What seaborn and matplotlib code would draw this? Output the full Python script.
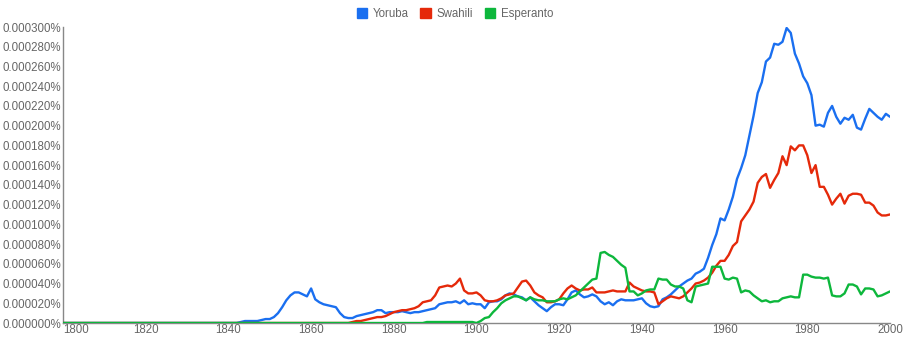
import numpy as np
import pandas as pd
import seaborn as sns
import matplotlib
matplotlib.use("Agg")
import matplotlib.pyplot as plt
from matplotlib.patches import Patch
from matplotlib.ticker import MultipleLocator, FuncFormatter

# values in millionths of a percent (300 -> 0.000300%)
years = list(range(1800, 2001))
x_ticks = [1800, 1820, 1840, 1860, 1880, 1900, 1920, 1940, 1960, 1980, 2000]

yoruba = [
    0, 0, 0, 0, 0, 0, 0, 0, 0, 0,  # 1800-1809
    0, 0, 0, 0, 0, 0, 0, 0, 0, 0,  # 1810-1819
    0, 0, 0, 0, 0, 0, 0, 0, 0, 0,  # 1820-1829
    0, 0, 0, 0, 0, 0, 0, 0, 0, 0,  # 1830-1839
    0, 0, 0, 1, 2, 2, 2, 2, 3, 4,  # 1840-1849
    4, 6, 10, 16, 23, 28, 31, 31, 29, 27,  # 1850-1859
    35, 24, 21, 19, 18, 17, 16, 10, 6, 5,  # 1860-1869
    5, 7, 8, 9, 10, 11, 13, 13, 10, 11,  # 1870-1879
    11, 11, 12, 11, 10, 11, 11, 12, 13, 14,  # 1880-1889
    15, 19, 20, 21, 21, 22, 20, 23, 19, 20,  # 1890-1899
    19, 19, 15, 21, 22, 22, 24, 28, 30, 29,  # 1900-1909
    27, 26, 23, 26, 22, 18, 15, 12, 16, 19,  # 1910-1919
    19, 18, 24, 31, 33, 29, 26, 27, 29, 27,  # 1920-1929
    22, 19, 21, 18, 22, 24, 23, 23, 23, 24,  # 1930-1939
    25, 20, 17, 16, 17, 24, 26, 29, 33, 37,  # 1940-1949
    40, 43, 45, 50, 52, 55, 66, 79, 90, 106,  # 1950-1959
    104, 115, 128, 146, 157, 170, 190, 210, 233, 244,  # 1960-1969
    265, 269, 283, 282, 285, 299, 294, 273, 263, 250,  # 1970-1979
    243, 231, 200, 201, 199, 213, 220, 209, 202, 208,  # 1980-1989
    206, 211, 198, 196, 207, 217, 213, 209, 206, 212,  # 1990-1999
    209,  # 2000
]

swahili = [
    0, 0, 0, 0, 0, 0, 0, 0, 0, 0,  # 1800-1809
    0, 0, 0, 0, 0, 0, 0, 0, 0, 0,  # 1810-1819
    0, 0, 0, 0, 0, 0, 0, 0, 0, 0,  # 1820-1829
    0, 0, 0, 0, 0, 0, 0, 0, 0, 0,  # 1830-1839
    0, 0, 0, 0, 0, 0, 0, 0, 0, 0,  # 1840-1849
    0, 0, 0, 0, 0, 0, 0, 0, 0, 0,  # 1850-1859
    0, 0, 0, 0, 0, 0, 0, 0, 0, 0,  # 1860-1869
    1, 2, 2, 3, 4, 5, 6, 6, 7, 9,  # 1870-1879
    11, 12, 13, 13, 14, 15, 17, 21, 22, 23,  # 1880-1889
    28, 36, 37, 38, 37, 40, 45, 33, 30, 30,  # 1890-1899
    31, 28, 23, 22, 22, 23, 25, 28, 29, 30,  # 1900-1909
    36, 42, 43, 38, 31, 28, 26, 21, 21, 22,  # 1910-1919
    24, 30, 35, 38, 35, 33, 34, 34, 36, 31,  # 1920-1929
    31, 31, 32, 33, 32, 32, 32, 41, 37, 35,  # 1930-1939
    33, 32, 32, 31, 19, 22, 25, 27, 26, 25,  # 1940-1949
    27, 31, 35, 40, 41, 43, 46, 51, 58, 63,  # 1950-1959
    63, 69, 78, 82, 103, 109, 115, 123, 142, 148,  # 1960-1969
    151, 137, 145, 152, 169, 160, 179, 175, 180, 180,  # 1970-1979
    170, 152, 160, 138, 138, 130, 120, 126, 131, 121,  # 1980-1989
    129, 131, 131, 130, 122, 122, 119, 112, 109, 109,  # 1990-1999
    110,  # 2000
]

esperanto = [
    0, 0, 0, 0, 0, 0, 0, 0, 0, 0,  # 1800-1809
    0, 0, 0, 0, 0, 0, 0, 0, 0, 0,  # 1810-1819
    0, 0, 0, 0, 0, 0, 0, 0, 0, 0,  # 1820-1829
    0, 0, 0, 0, 0, 0, 0, 0, 0, 0,  # 1830-1839
    0, 0, 0, 0, 0, 0, 0, 0, 0, 0,  # 1840-1849
    0, 0, 0, 0, 0, 0, 0, 0, 0, 0,  # 1850-1859
    0, 0, 0, 0, 0, 0, 0, 0, 0, 0,  # 1860-1869
    0, 0, 0, 0, 0, 0, 0, 0, 0, 0,  # 1870-1879
    0, 0, 0, 0, 0, 0, 0, 0, 1, 1,  # 1880-1889
    1, 1, 1, 1, 1, 1, 1, 1, 1, 1,  # 1890-1899
    0, 2, 5, 6, 11, 15, 20, 23, 25, 27,  # 1900-1909
    27, 25, 23, 26, 24, 23, 23, 22, 22, 22,  # 1910-1919
    24, 25, 24, 26, 28, 32, 36, 40, 44, 45,  # 1920-1929
    71, 72, 69, 67, 63, 59, 56, 32, 32, 28,  # 1930-1939
    30, 33, 34, 34, 45, 44, 44, 39, 37, 37,  # 1940-1949
    35, 23, 21, 37, 38, 39, 40, 57, 57, 57,  # 1950-1959
    45, 44, 46, 45, 31, 33, 32, 28, 25, 22,  # 1960-1969
    23, 21, 22, 22, 25, 26, 27, 26, 26, 49,  # 1970-1979
    49, 47, 46, 46, 45, 46, 28, 27, 27, 30,  # 1980-1989
    39, 39, 37, 29, 35, 35, 34, 27, 28, 30,  # 1990-1999
    32,  # 2000
]

series_names = ["Yoruba", "Swahili", "Esperanto"]
colors = ["#1a6ff0", "#e5290a", "#0db73c"]

df = pd.DataFrame({
    "year": years * 3,
    "value": yoruba + swahili + esperanto,
    "language": sum([[n] * len(years) for n in series_names], []),
})

sns.set_style("white")
plt.rcParams["font.family"] = ["Liberation Sans", "DejaVu Sans"]

fig = plt.figure(figsize=(9.11, 3.51), dpi=100)
ax = fig.add_axes([63 / 911, 1 - 323 / 351, (890 - 63) / 911, (323 - 27) / 351])

sns.lineplot(data=df, x="year", y="value", hue="language", hue_order=series_names,
             palette=colors, linewidth=1.7, ax=ax, legend=False, zorder=3)

ax.set_xlim(1800, 2000)
ax.set_ylim(0, 300)
ax.set_xlabel("")
ax.set_ylabel("")

ax.set_xticks(x_ticks)
ax.set_xticklabels([str(t) for t in x_ticks])
ax.xaxis.set_minor_locator(MultipleLocator(40))
ax.yaxis.set_major_locator(MultipleLocator(20))
ax.yaxis.set_minor_locator(MultipleLocator(40))
ax.yaxis.set_major_formatter(FuncFormatter(lambda v, p: f"{v * 1e-6:.6f}%"))

ax.grid(False, which="major")
ax.grid(True, which="minor", axis="x", color="#9a9a9a", linewidth=0.8)
ax.grid(True, which="minor", axis="y", color="#b4b4b4", linewidth=0.8)
ax.set_axisbelow(True)

ax.tick_params(axis="both", which="both", length=0, colors="#666666", labelsize=8.3)
ax.tick_params(axis="x", pad=1)
ax.tick_params(axis="y", pad=1.5)

# first year label sits right of the axis start, as in the reference
ax.get_xticklabels()[0].set_horizontalalignment("left")

for s in ["top", "right"]:
    ax.spines[s].set_visible(False)
for s in ["left", "bottom"]:
    ax.spines[s].set_color("#888888")
    ax.spines[s].set_linewidth(1.0)

handles = [Patch(facecolor=c, edgecolor=c, label=n) for n, c in zip(series_names, colors)]
leg = fig.legend(handles=handles, loc="center", bbox_to_anchor=(455 / 911, 1 - 14 / 351),
                 ncol=3, frameon=False, fontsize=8.3, handlelength=0.9, handleheight=0.9,
                 handletextpad=0.5, columnspacing=1.0, borderaxespad=0)
for t in leg.get_texts():
    t.set_color("#666666")

fig.savefig("out.png", dpi=100)
